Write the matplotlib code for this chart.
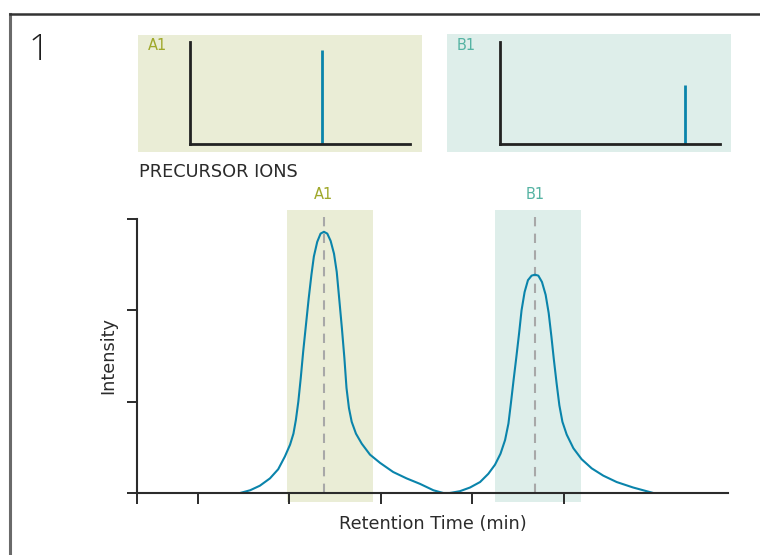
import matplotlib.pyplot as plt
from matplotlib.lines import Line2D
from matplotlib.patches import Rectangle

# chromatogram trace (retention time, intensity)
rt_a = [3.38, 3.71, 4.03, 4.36, 4.63, 4.85, 5.02, 5.13, 5.21, 5.29, 5.37, 5.45,
        5.54, 5.63, 5.72, 5.80, 5.91, 6.02, 6.13, 6.24, 6.35, 6.46, 6.55, 6.63,
        6.72, 6.80, 6.87, 6.95, 7.04, 7.18, 7.37, 7.64, 7.97, 8.40, 8.84, 9.28,
        9.72, 10.04]
int_a = [0.00, 0.03, 0.08, 0.16, 0.26, 0.40, 0.53, 0.65, 0.80, 1.00, 1.26, 1.55,
         1.84, 2.13, 2.39, 2.59, 2.75, 2.84, 2.86, 2.84, 2.76, 2.62, 2.42, 2.13,
         1.80, 1.48, 1.15, 0.93, 0.78, 0.65, 0.54, 0.42, 0.33, 0.23, 0.16, 0.10,
         0.03, 0.00]
rt_b = [10.26, 10.59, 10.92, 11.25, 11.52, 11.74, 11.92, 12.07, 12.18, 12.26,
        12.35, 12.44, 12.53, 12.61, 12.71, 12.82, 12.94, 13.05, 13.16, 13.28,
        13.40, 13.50, 13.59, 13.67, 13.76, 13.85, 13.95, 14.09, 14.31, 14.58,
        14.91, 15.29, 15.73, 16.27, 16.82, 16.93]
int_b = [0.00, 0.02, 0.06, 0.12, 0.21, 0.31, 0.43, 0.58, 0.76, 0.98,
         1.24, 1.49, 1.75, 2.00, 2.20, 2.33, 2.38, 2.39, 2.38, 2.31,
         2.17, 1.97, 1.71, 1.46, 1.20, 0.96, 0.78, 0.64, 0.49, 0.37,
         0.27, 0.19, 0.12, 0.06, 0.01, 0.00]

peak_names = ['A1', 'B1']
peak_rt = [6.13, 13.05]
windows = [(4.92, 7.74), (11.74, 14.56)]

# precursor spectra (m/z position, relative intensity)
ion_mz = [60, 84]
ion_int = [92, 58]

xticks = [0, 2, 5, 8, 11, 14]
yticks = [0, 1, 2, 3]

line_col = '#0a84ab'
shade_cols = ['#eaedd6', '#deeeea']
name_cols = ['#9fa82a', '#55b3a3']
ink = '#2b2b2b'

W, H = 760, 555
fig = plt.figure(figsize=(W / 100, H / 100), dpi=100)


def box(x0, y0, x1, y1):
    # pixel box (top-left origin) -> figure fraction rect
    return [x0 / W, 1 - y1 / H, (x1 - x0) / W, (y1 - y0) / H]


# outer frame (only left and top edges are inside the picture)
fig.add_artist(Line2D([9.5 / W, 9.5 / W], [0, 1 - 14 / H], color='#6a6a6a', lw=2.2))
fig.add_artist(Line2D([9.5 / W, 1], [1 - 14 / H, 1 - 14 / H], color='#333333', lw=1.8))
fig.text(29 / W, 1 - 50 / H, '1', fontsize=26, color='#1e1e1e', family='Open Sans',
         weight='light', va='center', ha='left')

# main chromatogram
ax = fig.add_axes(box(137, 219, 728, 493))
ax.patch.set_alpha(0)
ax.set_xlim(0, 19.38)
ax.set_ylim(0, 3.0)
for (lo, hi), c in zip(windows, shade_cols):
    ax.axvspan(lo, hi, ymin=-0.033, ymax=1.033, color=c, lw=0, zorder=0, clip_on=False)
for x, name, c in zip(peak_rt, peak_names, name_cols):
    ax.axvline(x, ymin=0, ymax=1.008, color='#a8a8a8', lw=1.5, ls=(0, (4.5, 3.5)),
               zorder=1, clip_on=False)
    ax.text(x, 1.088, name, transform=ax.get_xaxis_transform(), ha='center',
            va='center', color=c, fontsize=10.5)
ax.plot(rt_a, int_a, color=line_col, lw=1.5, zorder=3, solid_capstyle='round')
ax.plot([rt_a[-1], rt_b[0]], [0, 0], color=line_col, lw=1.5, zorder=3)
ax.plot(rt_b, int_b, color=line_col, lw=1.5, zorder=3, solid_capstyle='round')

for s in ['top', 'right']:
    ax.spines[s].set_visible(False)
for s in ['left', 'bottom']:
    ax.spines[s].set_color(ink)
    ax.spines[s].set_linewidth(1.5)
    ax.spines[s].set_zorder(4)
ax.set_xticks(xticks)
ax.set_yticks(yticks)
ax.set_xticklabels([])
ax.set_yticklabels([])
ax.tick_params(axis='x', direction='out', length=8, width=1.4, color=ink)
ax.tick_params(axis='y', direction='out', length=7, width=1.4, color=ink)
ax.set_xlabel('Retention Time (min)', fontsize=12.8, color=ink, labelpad=4)
ax.set_ylabel('Intensity', fontsize=12.8, color=ink, labelpad=4)

fig.text(139 / W, 1 - 172 / H, 'PRECURSOR IONS', fontsize=12.8, color=ink,
         va='center', ha='left')

# precursor ion insets
panels = [(138, 35, 422, 152, 190), (447, 34, 731, 152, 500)]
for (px0, py0, px1, py1, axx), mz, h, name, bg, c in zip(
        panels, ion_mz, ion_int, peak_names, shade_cols, name_cols):
    fig.add_artist(Rectangle((px0 / W, 1 - py1 / H), (px1 - px0) / W, (py1 - py0) / H,
                             transform=fig.transFigure, facecolor=bg, lw=0, zorder=0))
    fig.text((px0 + 10) / W, 1 - 45 / H, name, fontsize=10.5, color=c, va='center')
    iax = fig.add_axes(box(axx, 42, axx + 220, 144))
    iax.patch.set_alpha(0)
    iax.set_xlim(0, 100)
    iax.set_ylim(0, 100)
    iax.vlines([mz], 0, [h], color=line_col, lw=2)
    for s in ['top', 'right']:
        iax.spines[s].set_visible(False)
    for s in ['left', 'bottom']:
        iax.spines[s].set_color('#222222')
        iax.spines[s].set_linewidth(2)
    iax.set_xticks([])
    iax.set_yticks([])

fig.savefig('out.png', dpi=100)
